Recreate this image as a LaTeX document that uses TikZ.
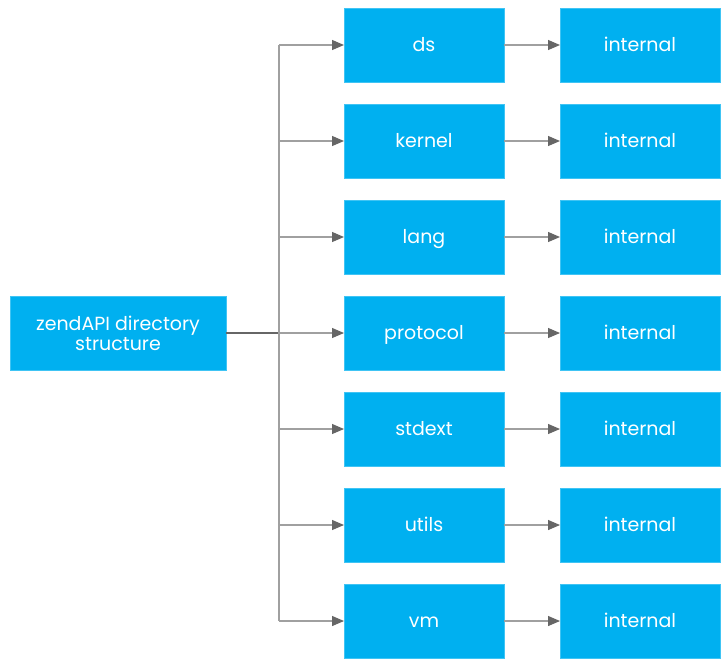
\documentclass[tikz,border=0pt]{standalone}
\usepackage{fontspec}
\setmainfont{Poppins}
\usetikzlibrary{positioning,arrows.meta}

\definecolor{boxblue}{HTML}{00B0F0}
\definecolor{linegray}{HTML}{A0A0A0}
\definecolor{tipgray}{HTML}{666666}

\tikzset{
	basebox/.style={rectangle, fill=boxblue, draw=boxblue!75!white, line width=0.4pt,
		minimum width=80pt, minimum height=37pt, inner sep=0pt, outer sep=0pt,
		text=white, font=\fontsize{9.5}{11}\selectfont},
	dirbox/.style={basebox, text height=6.5pt, text depth=0pt},
	rootbox/.style={basebox, minimum width=108pt, align=center},
	link/.style={draw=linegray, line width=0.6pt,
		-{Triangle[length=6pt, width=5pt, color=tipgray]}}
}

\begin{document}
\begin{tikzpicture}[x=0.5pt, y=-0.5pt, node distance=11pt and 28pt]
	\useasboundingbox (0,0) rectangle (728,666);

		\node(ds)[dirbox] at (424,45) {ds};
		\node(kernel)[dirbox, below=of ds] {kernel};
		\node(lang)[dirbox, below=of kernel] {lang};
		\node(protocol)[dirbox, below=of lang] {protocol};
		\node(stdext)[dirbox, below=of protocol] {stdext};
		\node(utils)[dirbox, below=of stdext] {utils};
		\node(vm)[dirbox, below=of utils] {vm};

		\node(ds-int)[dirbox, right=of ds] {internal};
		\node(kernel-int)[dirbox, right=of kernel] {internal};
		\node(lang-int)[dirbox, right=of lang] {internal};
		\node(protocol-int)[dirbox, right=of protocol] {internal};
		\node(stdext-int)[dirbox, right=of stdext] {internal};
		\node(utils-int)[dirbox, right=of utils] {internal};
		\node(vm-int)[dirbox, right=of vm] {internal};

		\node(root)[rootbox] at (118,333) {zendAPI directory\\[-1pt]structure};

		\coordinate(fork) at (279,333);

		\draw[draw=tipgray, line width=0.6pt] (root) -- (fork);
		\draw[draw=linegray, line width=0.6pt] (fork |- ds) -- (fork |- vm);

		\draw[link] (fork |- ds) -- (ds);
		\draw[link] (fork |- kernel) -- (kernel);
		\draw[link] (fork |- lang) -- (lang);
		\draw[link] (fork) -- (protocol);
		\draw[link] (fork |- stdext) -- (stdext);
		\draw[link] (fork |- utils) -- (utils);
		\draw[link] (fork |- vm) -- (vm);

		\draw[link] (ds) -- (ds-int);
		\draw[link] (kernel) -- (kernel-int);
		\draw[link] (lang) -- (lang-int);
		\draw[link] (protocol) -- (protocol-int);
		\draw[link] (stdext) -- (stdext-int);
		\draw[link] (utils) -- (utils-int);
		\draw[link] (vm) -- (vm-int);
	\end{tikzpicture}
\end{document}
